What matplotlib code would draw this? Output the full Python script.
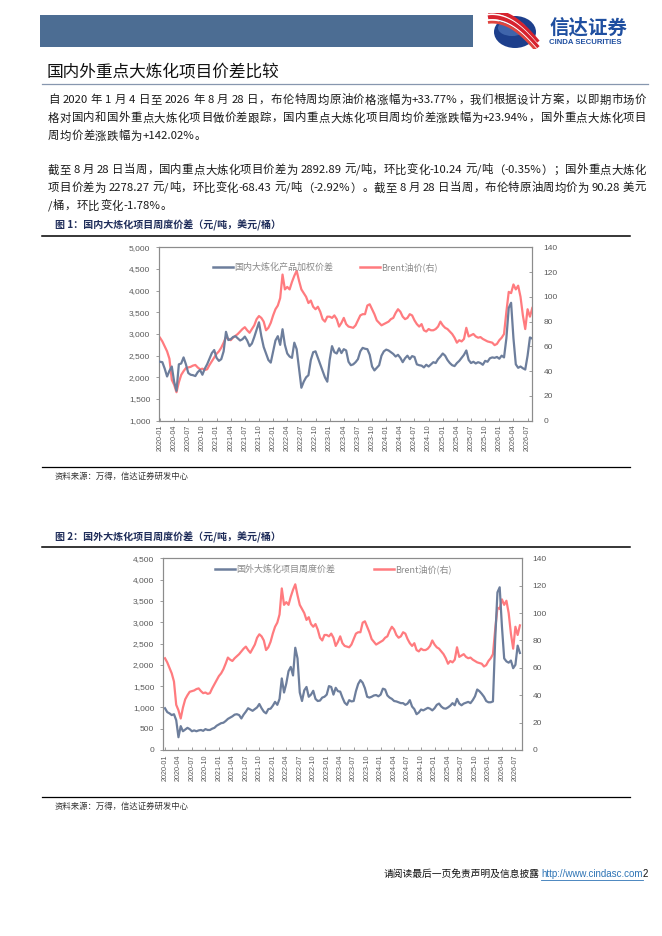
import matplotlib
matplotlib.use('Agg')
import matplotlib.pyplot as plt
import matplotlib.patches as mpatches
from matplotlib.lines import Line2D
from matplotlib.ticker import FuncFormatter, MultipleLocator
import numpy as np

# ---------------- DATA ----------------
tick_labels = ['2020-01', '2020-04', '2020-07', '2020-10',
               '2021-01', '2021-04', '2021-07', '2021-10',
               '2022-01', '2022-04', '2022-07', '2022-10',
               '2023-01', '2023-04', '2023-07', '2023-10',
               '2024-01', '2024-04', '2024-07', '2024-10',
               '2025-01', '2025-04', '2025-07', '2025-10',
               '2026-01', '2026-04', '2026-07']

# Brent crude, USD/bbl (semi-monthly readings, 2020-01 .. 2026-08)
brent = [67, 64, 60, 56, 50, 33, 29, 23, 31, 37,
         40, 42.5, 43, 43.5, 44.5, 45, 43, 41.5, 42, 41,
         41.5, 45, 48, 51, 54, 56, 59, 63, 67.5, 66,
         65, 67, 68.5, 70, 72, 74, 75.5, 73, 71, 74,
         77, 82, 84.5, 83, 80, 73, 75, 79, 85, 90,
         93, 99, 118, 106, 108, 106, 112, 117, 121, 113,
         106, 103, 100, 95, 97, 92, 90, 92, 88, 82,
         80, 84, 84, 83, 85, 82, 76, 79, 83, 78,
         76, 75.5, 75, 77, 81, 85, 86, 86, 93, 94,
         90, 86, 81, 79, 77, 78, 79, 80, 82, 83,
         87, 90, 88, 84, 82, 83, 86, 85, 81, 78,
         76, 78, 73, 72, 74, 73, 73, 74, 76, 80,
         77, 75, 74, 72, 70, 67, 63, 65, 64, 66,
         75, 68, 69, 70, 68, 67, 67.5, 66, 65, 64,
         63.5, 63, 61, 62, 65, 67, 70, 88, 104, 103,
         110, 106, 109, 100, 85, 74, 90, 84, 91]

# Domestic large refining weighted spread, CNY/t
domestic = [2360, 2350, 2200, 2020, 2150, 2250, 1900, 1690, 2300, 2320,
            2460, 2300, 2100, 2060, 2050, 2030, 2120, 2170, 2060, 2200,
            2300, 2430, 2560, 2630, 2450, 2380, 2420, 2600, 3050, 2860,
            2880, 2930, 2950, 2900, 2850, 2880, 2940, 2850, 2720, 2780,
            2930, 3100, 3270, 2950, 2700, 2550, 2400, 2340, 2600, 2850,
            2950, 2750, 3110, 2750, 2550, 2480, 2450, 2800, 2650, 2200,
            1760, 1900, 2000, 2050, 2400, 2580, 2600, 2450, 2300, 2150,
            2000, 1900, 2400, 2720, 2580, 2550, 2670, 2560, 2650, 2620,
            2360, 2280, 2300, 2350, 2420, 2600, 2680, 2660, 2650, 2520,
            2250, 2160, 2220, 2280, 2500, 2600, 2640, 2620, 2580, 2540,
            2480, 2520, 2450, 2350, 2440, 2500, 2420, 2490, 2470, 2300,
            2280, 2270, 2230, 2290, 2250, 2300, 2350, 2330, 2420, 2480,
            2550, 2500, 2400, 2330, 2280, 2260, 2330, 2380, 2450, 2520,
            2620, 2400, 2330, 2360, 2320, 2350, 2330, 2290, 2380, 2360,
            2440, 2460, 2450, 2470, 2430, 2500, 2460, 2900, 3600, 3720,
            2900, 2300, 2220, 2250, 2210, 2180, 2500, 2920, 2893]

# Overseas large refining weekly spread, CNY/t
overseas = [980, 890, 860, 820, 840, 700, 300, 560, 440, 480,
            520, 490, 440, 460, 440, 460, 470, 450, 490, 470,
            470, 500, 520, 570, 600, 630, 640, 680, 730, 760,
            790, 830, 840, 820, 740, 830, 900, 980, 950, 920,
            960, 1000, 1080, 980, 900, 860, 960, 970, 1040, 1130,
            1060, 1200, 1680, 1350, 1560, 1850, 1950, 1750, 2400, 2150,
            1350, 1150, 1400, 1480, 1250, 1300, 1390, 1200, 1150, 1160,
            1230, 1250, 1300, 1500, 1480, 1300, 1460, 1380, 1370, 1230,
            1110, 1060, 1170, 1140, 1150, 1380, 1550, 1640, 1580, 1450,
            1250, 1230, 1250, 1280, 1290, 1260, 1300, 1440, 1420, 1280,
            1230, 1200, 1150, 1140, 1120, 1100, 1100, 1060, 1090, 1170,
            1020, 960, 840, 880, 950, 930, 960, 990, 970, 930,
            980, 1060, 1090, 1020, 980, 970, 1000, 1040, 1100, 1050,
            1200, 1090, 1050, 1090, 1110, 1130, 1100, 1170, 1260, 1420,
            1380, 1320, 1250, 1150, 1120, 1120, 1140, 2600, 3700, 3820,
            2900, 2150, 2080, 2050, 2100, 1920, 2000, 2450, 2278]

name_dom = '国内大炼化产品加权价差'
name_ovs = '国外大炼化项目周度价差'
name_brent = 'Brent油价(右)'

para1 = ['自 2020 年 1 月 4 日至 2026 年 8 月 28 日，布伦特周均原油价格涨幅为+33.77%，我们根据设计方案，以即期市场价',
         '格对国内和国外重点大炼化项目做价差跟踪，国内重点大炼化项目周均价差涨跌幅为+23.94%，国外重点大炼化项目',
         '周均价差涨跌幅为+142.02%。']
para2 = ['截至 8 月 28 日当周，国内重点大炼化项目价差为 2892.89 元/吨，环比变化-10.24 元/吨（-0.35%）；国外重点大炼化',
         '项目价差为 2278.27 元/吨，环比变化-68.43 元/吨（-2.92%）。截至 8 月 28 日当周，布伦特原油周均价为 90.28 美元',
         '/桶，环比变化-1.78%。']

# ---------------- STYLE ----------------
CJK = ['Noto Sans CJK SC', 'DejaVu Sans']
plt.rcParams['font.family'] = CJK
BLUE = '#6D7E9C'
RED = '#FF7B7F'
GREY = '#595959'
SPINE = '#8C8C8C'
W, H = 662, 936

fig = plt.figure(figsize=(W / 100, H / 100), dpi=100)
bg = fig.add_axes([0, 0, 1, 1], zorder=0)
bg.set_xlim(0, W)
bg.set_ylim(H, 0)
bg.axis('off')
renderer = fig.canvas.get_renderer()

# header bar
bg.add_patch(mpatches.Rectangle((40, 15), 433, 32, facecolor='#4C6D93', edgecolor='none'))

# logo
logo = fig.add_axes([486 / W, 1 - 49 / H, 54 / W, 36 / H], zorder=2)
logo.set_xlim(0, 54)
logo.set_ylim(36, 0)
logo.axis('off')
ell = mpatches.Ellipse((29, 19), 42, 32, facecolor='#1D3F8C', edgecolor='none')
logo.add_patch(ell)
ell2 = mpatches.Ellipse((26, 15), 28, 16, facecolor='#5C84C6', edgecolor='none', alpha=0.55)
logo.add_patch(ell2)
tt = np.linspace(0, 1, 50)
for off, col, lw in [(-4, '#D7232E', 3.0), (-1.2, 'white', 1.2), (1.5, '#D7232E', 3.0),
                     (4.2, 'white', 1.0), (6.5, '#E0453E', 2.0)]:
    xs = 2 + tt * 50
    ys = 3 + off + 30 * tt ** 1.3 - 6 * np.sin(np.pi * tt)
    logo.plot(xs, ys, color=col, lw=lw, solid_capstyle='butt')
bg.text(549, 28, '信达证券', fontsize=14, fontweight='bold', color='#1F4FA0', va='center', ha='left')
bg.text(549, 43, 'CINDA SECURITIES', fontsize=5.6, fontweight='bold', color='#1F4FA0', va='center', ha='left',
        family=['Liberation Sans', 'DejaVu Sans'])

# title
bg.text(47, 73, '国内外重点大炼化项目价差比较', fontsize=12, color='#111111', va='center', ha='left')
bg.plot([42, 648], [83.5, 83.5], color='#8797AF', lw=0.9)


def tokens_of(s):
    toks, buf = [], ''
    for ch in s:
        if ch == ' ':
            if buf:
                toks.append(buf)
                buf = ''
            toks.append(' ')
        elif ord(ch) < 128:
            buf += ch
        else:
            if buf:
                toks.append(buf)
                buf = ''
            toks.append(ch)
    if buf:
        toks.append(buf)
    return toks


def draw_line(s, y, x0, x1, fs, justify=True, color='#1A1A1A'):
    items = []
    for t in tokens_of(s):
        if t == ' ':
            items.append((None, fs * 100 / 72 * 0.2))
        else:
            tx = bg.text(0, y, t, fontsize=fs, va='center', ha='left', color=color)
            w = tx.get_window_extent(renderer).width
            items.append((tx, w))
    total = sum(w for _, w in items)
    n = len(items)
    gap = (x1 - x0 - total) / (n - 1) if (justify and n > 1) else 0.4
    x = x0
    for tx, w in items:
        if tx is not None:
            tx.set_x(x)
        x += w + gap


FS = 8.2
for i, line in enumerate(para1):
    draw_line(line, 100 + 18 * i, 48, 646, FS, justify=(i < 2))
for i, line in enumerate(para2):
    draw_line(line, 170 + 18 * i, 48, 646, FS, justify=(i < 2))

# captions and rules
CAP = '#1F2D5A'
bg.text(55, 225, '图 1：国内大炼化项目周度价差（元/吨，美元/桶）', fontsize=7.2, fontweight='bold', color=CAP,
        va='center', ha='left')
bg.plot([42, 630], [235.5, 235.5], color='black', lw=1.1)
bg.plot([42, 630], [467, 467], color='black', lw=0.9)
bg.text(55, 476, '资料来源：万得，信达证券研发中心', fontsize=6.0, color='#333333', va='center', ha='left')

bg.text(55, 537, '图 2：国外大炼化项目周度价差（元/吨，美元/桶）', fontsize=7.2, fontweight='bold', color=CAP,
        va='center', ha='left')
bg.plot([42, 630], [547, 547], color='black', lw=1.1)
bg.plot([42, 630], [797, 797], color='black', lw=0.9)
bg.text(55, 806, '资料来源：万得，信达证券研发中心', fontsize=6.0, color='#333333', va='center', ha='left')

# footer
t2 = bg.text(648, 874, '2', fontsize=7, color='#111111', va='center', ha='right',
             family=['Liberation Sans', 'DejaVu Sans'])
w2 = t2.get_window_extent(renderer).width
turl = bg.text(648 - w2, 874, 'http://www.cindasc.com', fontsize=7, color='#2E74B5', va='center', ha='right',
               family=['Liberation Sans', 'DejaVu Sans'])
wu = turl.get_window_extent(renderer).width
bg.plot([648 - w2 - wu, 648 - w2], [879.5, 879.5], color='#2E74B5', lw=0.6)
bg.text(648 - w2 - wu - 2, 874, '请阅读最后一页免责声明及信息披露', fontsize=7, color='#111111', va='center', ha='right')

# ---------------- CHARTS ----------------
xi = np.arange(len(brent))
tick_pos = np.arange(0, len(tick_labels) * 6, 6)


def thousands(v, p):
    return f'{int(v):,}'


def make_chart(rect, spread, sname, ylo, yhi, xlim, leg_anchor, colsp):
    ax = fig.add_axes(rect, zorder=1)
    ax2 = ax.twinx()
    ax.plot(xi, spread, color=BLUE, lw=1.6, zorder=3)
    ax2.plot(xi, brent, color=RED, lw=1.6, zorder=2)
    ax.set_zorder(ax2.get_zorder() + 1)
    ax.patch.set_visible(False)
    ax.set_xlim(*xlim)
    ax.set_ylim(ylo, yhi)
    ax2.set_ylim(0, 140)
    ax.yaxis.set_major_locator(MultipleLocator(500))
    ax.yaxis.set_major_formatter(FuncFormatter(thousands))
    ax2.yaxis.set_major_locator(MultipleLocator(20))
    ax.set_xticks(tick_pos)
    ax.set_xticklabels(tick_labels, rotation=90, fontsize=5.2, color=GREY,
                       family=['Liberation Sans', 'DejaVu Sans'])
    for a in (ax, ax2):
        for s in a.spines.values():
            s.set_color(SPINE)
            s.set_linewidth(0.8)
    ax.tick_params(axis='x', direction='in', length=2, width=0.6, color=SPINE, pad=3)
    ax.tick_params(axis='y', direction='out', length=2.5, width=0.6, color=SPINE, pad=4,
                   labelsize=6, labelcolor=GREY)
    ax2.tick_params(axis='y', direction='in', length=2.5, width=0.6, color=SPINE, pad=8,
                    labelsize=6, labelcolor=GREY)
    for lab in ax.get_yticklabels() + ax2.get_yticklabels():
        lab.set_family(['Liberation Sans', 'DejaVu Sans'])
    handles = [Line2D([], [], color=BLUE, lw=1.8), Line2D([], [], color=RED, lw=1.8)]
    leg = ax.legend(handles, [sname, name_brent], ncol=2, loc='upper left', bbox_to_anchor=leg_anchor,
                    frameon=False, fontsize=6.5, handlelength=2.2, handletextpad=0.15,
                    columnspacing=colsp, borderpad=0, borderaxespad=0)
    for t in leg.get_texts():
        t.set_color('#8A8A8A')
    return ax, ax2


make_chart([159.3 / W, 1 - 420.7 / H, 373 / W, 173.4 / H], domestic, name_dom, 1000, 5000,
           (-0.3, 158.0), (0.144, 0.915), 3.0)
make_chart([163.3 / W, 1 - 750 / H, 358.4 / W, 191.7 / H], overseas, name_ovs, 0, 4500,
           (-0.75, 158.8), (0.144, 0.968), 4.3)

fig.savefig('out.png', dpi=100)
